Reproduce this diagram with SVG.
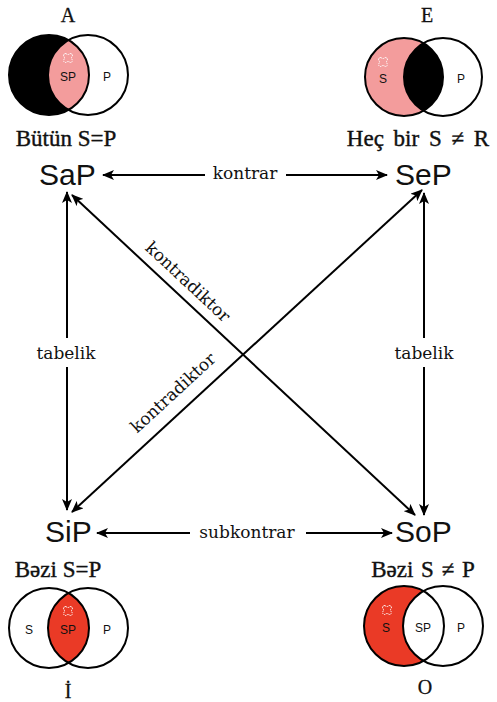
<svg xmlns="http://www.w3.org/2000/svg" width="497" height="702" viewBox="0 0 497 702">
<style>
.ring{fill:none;stroke:#000;stroke-width:2}
.in{font-family:"Liberation Sans",Arial,sans-serif;font-size:12px;text-anchor:middle;fill:#111}
.node{font-family:"Liberation Sans",Arial,sans-serif;font-size:30px;fill:#111}
.cap{font-family:"Liberation Serif","Times New Roman",serif;font-size:23px;text-anchor:middle;fill:#111;stroke:#111;stroke-width:0.4}
.let{font-family:"Liberation Serif","Times New Roman",serif;font-size:20px;text-anchor:middle;fill:#111;stroke:#111;stroke-width:0.3}
.lbl{font-family:"DejaVu Serif",serif;font-size:17px;text-anchor:middle;fill:#111}
.conn line{stroke:#000;stroke-width:2}
.arr{marker-start:url(#ah);marker-end:url(#ah)}
.mark{fill:none;stroke:#fff;stroke-width:1;stroke-dasharray:1.5 0.8}
.pink{fill:#f39c9c}
.red{fill:#ea3a26}
</style>
<defs>
<marker id="ah" viewBox="0 0 12 10" refX="11" refY="5" markerWidth="12" markerHeight="10" markerUnits="userSpaceOnUse" orient="auto-start-reverse">
<path d="M0,0 L12,5 L0,10 L3,5 z" fill="#000"/>
</marker>
<clipPath id="cA"><circle cx="49" cy="75" r="40"/></clipPath>
<clipPath id="cE"><circle cx="404" cy="77" r="39"/></clipPath>
<clipPath id="cI"><circle cx="49" cy="628" r="40"/></clipPath>
<clipPath id="cO"><circle cx="404" cy="626" r="40"/></clipPath>
<path id="x" d="M-2,-4.5 Q0,-2.5 2,-4.5 Q4.5,-4.5 4.5,-2 Q2.5,0 4.5,2 Q4.5,4.5 2,4.5 Q0,2.5 -2,4.5 Q-4.5,4.5 -4.5,2 Q-2.5,0 -4.5,-2 Q-4.5,-4.5 -2,-4.5 z"/>
</defs>

<g id="venn-A">
<text class="let" x="68" y="22">A</text>
<circle cx="49" cy="75" r="40" fill="#000"/>
<circle cx="88" cy="75" r="40" class="pink" clip-path="url(#cA)"/>
<circle cx="49" cy="75" r="40" class="ring"/>
<circle cx="88" cy="75" r="40" class="ring"/>
<use href="#x" x="68" y="58" class="mark"/>
<text class="in" x="68" y="81">SP</text>
<text class="in" x="107" y="81">P</text>
<text class="cap" x="66" y="146">Bütün S=P</text>
</g>

<g id="venn-E">
<text class="let" x="427" y="22">E</text>
<circle cx="404" cy="77" r="39" class="pink"/>
<circle cx="443" cy="77" r="39" fill="#000" clip-path="url(#cE)"/>
<circle cx="404" cy="77" r="39" class="ring"/>
<circle cx="443" cy="77" r="39" class="ring"/>
<use href="#x" x="383" y="62" class="mark"/>
<text class="in" x="383" y="83">S</text>
<text class="in" x="461" y="83">P</text>
<text class="cap" x="418" y="146" word-spacing="4">Heç bir S ≠ R</text>
</g>

<g id="venn-I">
<text class="cap" x="58" y="577">Bəzi S=P</text>
<circle cx="88" cy="628" r="40" class="red" clip-path="url(#cI)"/>
<circle cx="49" cy="628" r="40" class="ring"/>
<circle cx="88" cy="628" r="40" class="ring"/>
<use href="#x" x="68" y="611" class="mark"/>
<text class="in" x="29" y="634">S</text>
<text class="in" x="68" y="634">SP</text>
<text class="in" x="107" y="634">P</text>
<text class="let" x="68" y="698">İ</text>
</g>

<g id="venn-O">
<text class="cap" x="423" y="577" word-spacing="2">Bəzi S ≠ P</text>
<circle cx="404" cy="626" r="40" class="red"/>
<circle cx="443" cy="626" r="40" fill="#fff" clip-path="url(#cO)"/>
<circle cx="404" cy="626" r="40" class="ring"/>
<circle cx="443" cy="626" r="40" class="ring"/>
<use href="#x" x="387" y="610" class="mark"/>
<text class="in" x="386" y="632">S</text>
<text class="in" x="423" y="632">SP</text>
<text class="in" x="461" y="632">P</text>
<text class="let" x="425" y="694">O</text>
</g>

<g id="node-SaP"><text class="node" x="39" y="185">SaP</text></g>
<g id="node-SeP"><text class="node" x="395" y="185">SeP</text></g>
<g id="node-SiP"><text class="node" x="45" y="542">SiP</text></g>
<g id="node-SoP"><text class="node" x="395" y="542">SoP</text></g>

<g id="connectors" class="conn">
<line class="arr" x1="103" y1="175" x2="387" y2="175"/>
<line class="arr" x1="97" y1="533" x2="392" y2="533"/>
<line class="arr" x1="67" y1="192" x2="67" y2="510"/>
<line class="arr" x1="424" y1="193" x2="424" y2="515"/>
<line class="arr" x1="72" y1="195" x2="415" y2="515"/>
<line class="arr" x1="422" y1="190" x2="72" y2="512"/>
<rect x="205" y="162" width="81" height="24" fill="#fff"/>
<rect x="190" y="520" width="116" height="24" fill="#fff"/>
<rect x="30" y="338" width="74" height="29" fill="#fff"/>
<rect x="388" y="338" width="74" height="29" fill="#fff"/>
<text class="lbl" x="245" y="179">kontrar</text>
<text class="lbl" x="247" y="538">subkontrar</text>
<text class="lbl" x="66" y="359">tabelik</text>
<text class="lbl" x="424" y="359">tabelik</text>
<text class="lbl" x="184" y="286" transform="rotate(43 184 286)">kontradiktor</text>
<text class="lbl" x="177" y="397" transform="rotate(-42.6 177 397)">kontradiktor</text>
</g>
</svg>
